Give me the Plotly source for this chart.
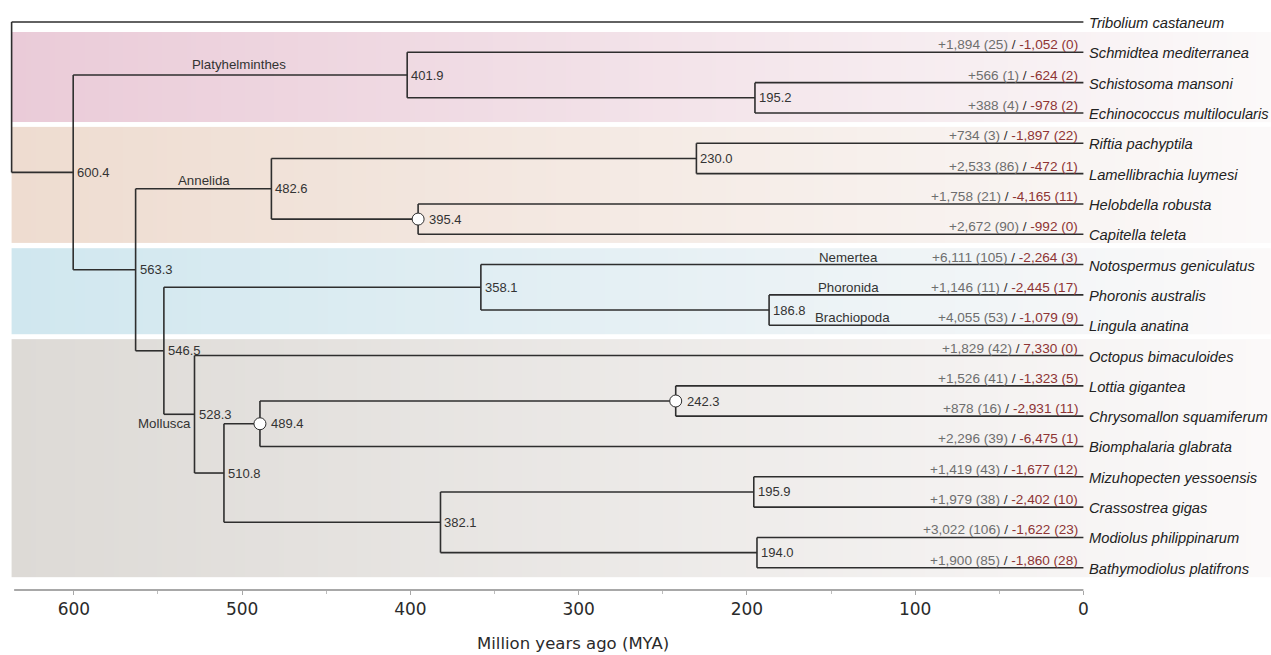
import numpy as np
import plotly.graph_objects as go

# ---- tips (top to bottom) and their gene-family gain / loss counts ----
species = [
    "Tribolium castaneum", "Schmidtea mediterranea", "Schistosoma mansoni",
    "Echinococcus multilocularis", "Riftia pachyptila", "Lamellibrachia luymesi",
    "Helobdella robusta", "Capitella teleta", "Notospermus geniculatus",
    "Phoronis australis", "Lingula anatina", "Octopus bimaculoides",
    "Lottia gigantea", "Chrysomallon squamiferum", "Biomphalaria glabrata",
    "Mizuhopecten yessoensis", "Crassostrea gigas", "Modiolus philippinarum",
    "Bathymodiolus platifrons",
]
gained = [None, 1894, 566, 388, 734, 2533, 1758, 2672, 6111, 1146, 4055,
          1829, 1526, 878, 2296, 1419, 1979, 3022, 1900]
gained_fam = [None, 25, 1, 4, 3, 86, 21, 90, 105, 11, 53, 42, 41, 16, 39,
              43, 38, 106, 85]
lost = [None, -1052, -624, -978, -1897, -472, -4165, -992, -2264, -2445,
        -1079, 7330, -1323, -2931, -6475, -1677, -2402, -1622, -1860]
lost_fam = [None, 0, 2, 2, 22, 1, 11, 0, 3, 17, 9, 0, 5, 11, 1, 12, 10, 23, 28]

# ---- internal nodes: divergence time (MYA) and children ----
node_names = ["root", "n600", "n401", "n195a", "n563", "n482", "n230", "n395",
              "n546", "n358", "n186", "n528", "n510", "n489", "n242", "n382",
              "n195b", "n194"]
node_ages = [637.0, 600.4, 401.9, 195.2, 563.3, 482.6, 230.0, 395.4, 546.5,
             358.1, 186.8, 528.3, 510.8, 489.4, 242.3, 382.1, 195.9, 194.0]
node_children = [(0, "n600"), ("n401", "n563"), (1, "n195a"), (2, 3),
                 ("n482", "n546"), ("n230", "n395"), (4, 5), (6, 7),
                 ("n358", "n528"), (8, "n186"), (9, 10), (11, "n510"),
                 ("n489", "n382"), ("n242", 14), (12, 13), ("n195b", "n194"),
                 (15, 16), (17, 18)]
circled_nodes = ["n395", "n489", "n242"]

# ---- clade names ----
clade_names = ["Platyhelminthes", "Annelida", "Mollusca", "Nemertea",
               "Phoronida", "Brachiopoda"]

# ---- colour groups (tip index ranges) ----
group_tips = [(1, 3), (4, 7), (8, 10), (11, 18)]
group_colors = ["#eacbd8", "#eedcd0", "#d0e7ef", "#dddad6"]

# ------------------------------------------------------------------
age = dict(zip(node_names, node_ages))
kids = dict(zip(node_names, node_children))
ycache = {}


def ypos(n):
    if isinstance(n, int):
        return float(n)
    if n not in ycache:
        a, b = kids[n]
        ycache[n] = (ypos(a) + ypos(b)) / 2.0
    return ycache[n]


def xpos(n):
    return 0.0 if isinstance(n, int) else age[n]


for n in node_names:
    ypos(n)

X0, X1 = 643.9, -111.5          # visible time range (reversed)
Y0, Y1 = 18.733, -0.7256        # visible row range (reversed)

fig = go.Figure()

# background bands fading to white
xs = np.linspace(age["root"], X1, 260)
for (a, b), col in zip(group_tips, group_colors):
    top = a - 0.67 + (0.0 if a == 1 else 0.13)
    bot = b + 0.30
    z = [np.linspace(0, 1, len(xs) - 1)]
    fig.add_trace(go.Heatmap(
        x=xs, y=[top, bot], z=z, zmin=0, zmax=1,
        colorscale=[[0, col], [1, "#fbf9f9"]], showscale=False,
        hoverinfo="skip"))

# branches
lx, ly = [], []
for n in node_names:
    a, b = kids[n]
    lx += [age[n], age[n], None]
    ly += [ypos(a), ypos(b), None]
    for c in (a, b):
        lx += [age[n], xpos(c), None]
        ly += [ypos(c), ypos(c), None]
fig.add_trace(go.Scatter(x=lx, y=ly, mode="lines",
                         line=dict(color="#2e2e2e", width=1.6),
                         hoverinfo="skip", showlegend=False))

# circled nodes
fig.add_trace(go.Scatter(
    x=[age[n] for n in circled_nodes], y=[ypos(n) for n in circled_nodes],
    mode="markers",
    marker=dict(size=12, color="white", line=dict(color="#2e2e2e", width=1)),
    hoverinfo="skip", showlegend=False))

ann = []
LAB = "Liberation Sans, Arial, sans-serif"

# node age labels
for n in node_names[1:]:
    ann.append(dict(x=age[n], y=ypos(n), text=f"{age[n]:.1f}", showarrow=False,
                    xanchor="left", yanchor="middle",
                    xshift=9 if n in circled_nodes else 2,
                    font=dict(family=LAB, size=13, color="#333333")))

# species names and gain / loss counts
for i, sp in enumerate(species):
    ann.append(dict(x=0, y=i, text=f"<i>{sp}</i>", showarrow=False,
                    xanchor="left", yanchor="middle", xshift=4, yshift=-1,
                    font=dict(family=LAB, size=14.7, color="#222222")))
    if gained[i] is None:
        continue
    txt = (f"<span style='color:#6e6e6e'>+{gained[i]:,} ({gained_fam[i]})</span>"
           f" <span style='color:#333333'>/</span> "
           f"<span style='color:#8e3434'>{lost[i]:,} ({lost_fam[i]})</span>")
    ann.append(dict(x=0, y=i, text=txt, showarrow=False, xanchor="right",
                    yanchor="bottom", xshift=-3, yshift=-2,
                    font=dict(family=LAB, size=13.6, color="#6e6e6e")))

# clade names
clade_pos = [
    dict(x=501.8, y=ypos("n401"), xanchor="center", yshift=1),
    dict(x=522.6, y=ypos("n482"), xanchor="center", yshift=-1),
    dict(x=age["n528"], y=ypos("n489"), xanchor="right", xshift=-2,
         yanchor="middle"),
    dict(x=139.5, y=8, xanchor="center", yshift=-2),
    dict(x=139.5, y=9, xanchor="center", yshift=-2),
    dict(x=137.5, y=10, xanchor="center", yshift=-2),
]
for name, p in zip(clade_names, clade_pos):
    d = dict(text=name, showarrow=False, yanchor="bottom",
             font=dict(family=LAB, size=13.3, color="#333333"))
    d.update(p)
    ann.append(d)

# axis title
ann.append(dict(xref="paper", yref="paper", x=573 / 1271, y=-0.0915,
                text="Million years ago (MYA)", showarrow=False,
                xanchor="center", yanchor="middle", borderpad=0,
                font=dict(family="DejaVu Sans", size=16.5, color="#2a2a2a")))

fig.update_layout(
    width=1271, height=655,
    margin=dict(l=0, r=0, t=0, b=65),
    paper_bgcolor="white", plot_bgcolor="white",
    showlegend=False,
    annotations=ann,
    shapes=[dict(type="line", xref="x", yref="paper", x0=635.5, x1=0,
                 y0=0, y1=0, line=dict(color="#a8a8a8", width=2))],
    xaxis=dict(range=[X0, X1], showgrid=False, zeroline=False,
               showline=False, ticks="outside", ticklen=4, tickwidth=1,
               tickcolor="#a8a8a8",
               tickvals=[600, 500, 400, 300, 200, 100, 0],
               ticktext=["600", "500", "400", "300", "200", "100", "0"],
               tickfont=dict(family="DejaVu Sans", size=17, color="#2a2a2a"),
               minor=dict(tickvals=[550, 450, 350, 250, 150, 50],
                          ticks="outside", ticklen=3, tickcolor="#bdbdbd"),
               fixedrange=True),
    yaxis=dict(range=[Y0, Y1], visible=False, fixedrange=True),
)

fig.write_html("out.html")
